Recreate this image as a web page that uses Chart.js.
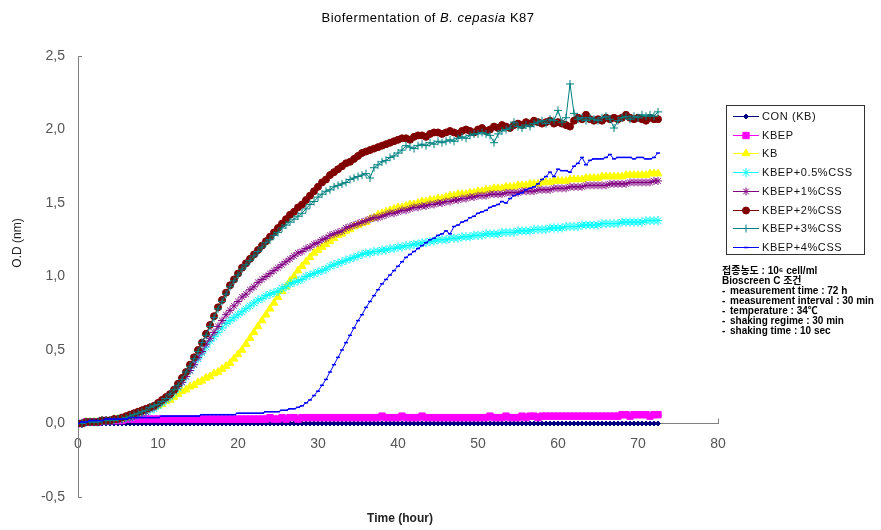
<!DOCTYPE html>
<html>
<head>
<meta charset="utf-8">
<title>Biofermentation of B. cepasia K87</title>
<script src="https://cdn.jsdelivr.net/npm/chart.js@4.4.1/dist/chart.umd.min.js"></script>
<style>
  html, body { margin: 0; padding: 0; background: #ffffff; }
  #wrap { width: 881px; height: 530px; position: relative; }
</style>
</head>
<body>
<div id="wrap"><canvas id="chart" width="881" height="530"></canvas></div>
<script>
// Sampling times (hours), one reading every 30 min
const hours = [
  0, 0.5, 1, 1.5, 2, 2.5, 3, 3.5, 4, 4.5,
  5, 5.5, 6, 6.5, 7, 7.5, 8, 8.5, 9, 9.5,
  10, 10.5, 11, 11.5, 12, 12.5, 13, 13.5, 14, 14.5,
  15, 15.5, 16, 16.5, 17, 17.5, 18, 18.5, 19, 19.5,
  20, 20.5, 21, 21.5, 22, 22.5, 23, 23.5, 24, 24.5,
  25, 25.5, 26, 26.5, 27, 27.5, 28, 28.5, 29, 29.5,
  30, 30.5, 31, 31.5, 32, 32.5, 33, 33.5, 34, 34.5,
  35, 35.5, 36, 36.5, 37, 37.5, 38, 38.5, 39, 39.5,
  40, 40.5, 41, 41.5, 42, 42.5, 43, 43.5, 44, 44.5,
  45, 45.5, 46, 46.5, 47, 47.5, 48, 48.5, 49, 49.5,
  50, 50.5, 51, 51.5, 52, 52.5, 53, 53.5, 54, 54.5,
  55, 55.5, 56, 56.5, 57, 57.5, 58, 58.5, 59, 59.5,
  60, 60.5, 61, 61.5, 62, 62.5, 63, 63.5, 64, 64.5,
  65, 65.5, 66, 66.5, 67, 67.5, 68, 68.5, 69, 69.5,
  70, 70.5, 71, 71.5, 72, 72.5
];

const seriesNames = ['CON (KB)', 'KBEP', 'KB', 'KBEP+0.5%CSS', 'KBEP+1%CSS', 'KBEP+2%CSS', 'KBEP+3%CSS', 'KBEP+4%CSS'];

// O.D readings per culture
const odConKB = [
  0.00, 0.00, 0.00, 0.01, 0.00, 0.00, 0.00, 0.00, 0.00, 0.00,
  0.00, 0.00, 0.00, 0.00, 0.00, 0.00, 0.00, 0.00, 0.00, 0.00,
  0.00, 0.00, 0.00, 0.00, 0.00, 0.00, 0.00, 0.00, 0.00, 0.00,
  0.00, 0.00, 0.00, 0.00, 0.00, 0.00, 0.00, 0.00, 0.00, 0.00,
  0.00, 0.00, 0.00, 0.00, 0.00, 0.00, 0.00, 0.00, 0.00, 0.00,
  0.00, 0.00, 0.00, 0.00, 0.00, 0.00, 0.00, 0.00, 0.00, 0.00,
  0.00, 0.00, 0.00, 0.00, 0.00, 0.00, 0.00, 0.00, 0.00, 0.00,
  0.00, 0.00, 0.00, 0.00, 0.00, 0.00, 0.00, 0.00, 0.00, 0.00,
  0.00, 0.00, 0.00, 0.00, 0.00, 0.00, 0.00, 0.00, 0.00, 0.00,
  0.00, 0.00, 0.00, 0.00, 0.00, 0.00, 0.00, 0.00, 0.00, 0.00,
  0.00, 0.00, 0.00, 0.00, 0.00, 0.00, 0.00, 0.00, 0.00, 0.00,
  0.00, 0.00, 0.00, 0.00, 0.00, 0.00, 0.00, 0.00, 0.00, 0.00,
  0.00, 0.00, 0.00, 0.00, 0.00, 0.00, 0.00, 0.00, 0.00, 0.00,
  0.00, 0.00, 0.00, 0.00, 0.00, 0.00, 0.00, 0.00, 0.00, 0.00,
  0.00, 0.00, 0.00, 0.00, 0.00, 0.00
];

const odKBEP = [
  0.00, 0.00, 0.01, 0.01, 0.01, 0.01, 0.02, 0.02, 0.02, 0.02,
  0.02, 0.02, 0.03, 0.03, 0.03, 0.03, 0.03, 0.03, 0.03, 0.03,
  0.03, 0.03, 0.03, 0.03, 0.03, 0.03, 0.03, 0.03, 0.03, 0.03,
  0.03, 0.03, 0.03, 0.03, 0.03, 0.03, 0.03, 0.03, 0.03, 0.03,
  0.03, 0.03, 0.03, 0.03, 0.03, 0.03, 0.03, 0.03, 0.04, 0.03,
  0.03, 0.04, 0.03, 0.04, 0.04, 0.03, 0.04, 0.04, 0.04, 0.04,
  0.04, 0.04, 0.04, 0.04, 0.04, 0.04, 0.04, 0.04, 0.04, 0.04,
  0.04, 0.04, 0.04, 0.04, 0.04, 0.04, 0.05, 0.04, 0.04, 0.04,
  0.04, 0.05, 0.04, 0.04, 0.04, 0.04, 0.05, 0.04, 0.04, 0.04,
  0.04, 0.04, 0.04, 0.04, 0.04, 0.04, 0.04, 0.04, 0.04, 0.04,
  0.04, 0.04, 0.04, 0.05, 0.04, 0.04, 0.04, 0.05, 0.04, 0.04,
  0.04, 0.05, 0.04, 0.05, 0.05, 0.04, 0.05, 0.05, 0.05, 0.05,
  0.05, 0.05, 0.05, 0.05, 0.05, 0.05, 0.05, 0.05, 0.05, 0.05,
  0.05, 0.05, 0.05, 0.05, 0.05, 0.05, 0.06, 0.06, 0.05, 0.06,
  0.06, 0.06, 0.06, 0.05, 0.06, 0.06
];

const odKB = [
  0.00, 0.00, 0.01, 0.01, 0.01, 0.01, 0.02, 0.02, 0.02, 0.03,
  0.03, 0.03, 0.04, 0.05, 0.06, 0.07, 0.08, 0.09, 0.10, 0.11,
  0.12, 0.13, 0.15, 0.16, 0.18, 0.20, 0.22, 0.23, 0.25, 0.26,
  0.28, 0.29, 0.31, 0.32, 0.34, 0.35, 0.37, 0.39, 0.41, 0.44,
  0.47, 0.50, 0.54, 0.58, 0.62, 0.66, 0.70, 0.74, 0.78, 0.82,
  0.86, 0.90, 0.93, 0.97, 1.00, 1.04, 1.07, 1.10, 1.13, 1.16,
  1.18, 1.20, 1.22, 1.24, 1.26, 1.28, 1.29, 1.31, 1.32, 1.34,
  1.35, 1.36, 1.37, 1.39, 1.40, 1.42, 1.43, 1.44, 1.45, 1.46,
  1.47, 1.47, 1.48, 1.49, 1.49, 1.50, 1.51, 1.51, 1.52, 1.52,
  1.53, 1.53, 1.54, 1.55, 1.55, 1.56, 1.56, 1.56, 1.57, 1.57,
  1.58, 1.58, 1.59, 1.59, 1.60, 1.60, 1.60, 1.61, 1.61, 1.61,
  1.62, 1.62, 1.62, 1.63, 1.63, 1.63, 1.64, 1.64, 1.64, 1.65,
  1.65, 1.65, 1.65, 1.66, 1.66, 1.66, 1.66, 1.67, 1.67, 1.67,
  1.67, 1.68, 1.68, 1.68, 1.68, 1.68, 1.68, 1.69, 1.69, 1.69,
  1.69, 1.69, 1.69, 1.70, 1.70, 1.70
];

const odCss05 = [
  0.00, 0.00, 0.01, 0.01, 0.01, 0.01, 0.02, 0.02, 0.02, 0.03,
  0.03, 0.03, 0.04, 0.04, 0.05, 0.06, 0.07, 0.08, 0.09, 0.10,
  0.12, 0.14, 0.16, 0.18, 0.21, 0.24, 0.28, 0.32, 0.36, 0.40,
  0.44, 0.48, 0.52, 0.56, 0.59, 0.62, 0.65, 0.68, 0.70, 0.72,
  0.74, 0.76, 0.78, 0.80, 0.82, 0.84, 0.85, 0.87, 0.88, 0.89,
  0.90, 0.92, 0.93, 0.95, 0.96, 0.97, 0.98, 1.00, 1.01, 1.02,
  1.03, 1.04, 1.05, 1.07, 1.08, 1.09, 1.10, 1.11, 1.12, 1.13,
  1.14, 1.15, 1.16, 1.16, 1.17, 1.17, 1.18, 1.18, 1.19, 1.19,
  1.20, 1.20, 1.21, 1.21, 1.22, 1.22, 1.23, 1.23, 1.24, 1.24,
  1.25, 1.25, 1.25, 1.26, 1.26, 1.26, 1.27, 1.27, 1.27, 1.28,
  1.28, 1.28, 1.29, 1.29, 1.29, 1.29, 1.30, 1.30, 1.30, 1.30,
  1.31, 1.31, 1.31, 1.31, 1.32, 1.32, 1.32, 1.32, 1.33, 1.33,
  1.33, 1.33, 1.34, 1.34, 1.34, 1.34, 1.35, 1.35, 1.35, 1.35,
  1.35, 1.36, 1.36, 1.36, 1.36, 1.36, 1.37, 1.37, 1.37, 1.37,
  1.37, 1.37, 1.38, 1.38, 1.38, 1.38
];

const odCss1 = [
  0.00, 0.00, 0.01, 0.01, 0.01, 0.01, 0.02, 0.02, 0.02, 0.03,
  0.03, 0.03, 0.04, 0.04, 0.05, 0.06, 0.07, 0.08, 0.10, 0.11,
  0.13, 0.15, 0.17, 0.19, 0.22, 0.25, 0.28, 0.32, 0.36, 0.40,
  0.45, 0.49, 0.54, 0.58, 0.62, 0.66, 0.70, 0.74, 0.77, 0.80,
  0.83, 0.86, 0.88, 0.91, 0.93, 0.96, 0.98, 1.00, 1.02, 1.04,
  1.06, 1.08, 1.10, 1.12, 1.14, 1.16, 1.17, 1.19, 1.20, 1.22,
  1.23, 1.25, 1.26, 1.28, 1.29, 1.30, 1.31, 1.33, 1.34, 1.35,
  1.36, 1.37, 1.38, 1.39, 1.40, 1.40, 1.41, 1.42, 1.43, 1.43,
  1.44, 1.45, 1.45, 1.46, 1.47, 1.47, 1.48, 1.48, 1.49, 1.49,
  1.50, 1.50, 1.51, 1.51, 1.52, 1.52, 1.53, 1.53, 1.54, 1.54,
  1.55, 1.55, 1.55, 1.56, 1.56, 1.56, 1.56, 1.57, 1.57, 1.57,
  1.57, 1.58, 1.58, 1.58, 1.58, 1.59, 1.59, 1.59, 1.59, 1.60,
  1.60, 1.60, 1.60, 1.61, 1.61, 1.61, 1.61, 1.62, 1.62, 1.62,
  1.62, 1.62, 1.62, 1.63, 1.63, 1.63, 1.63, 1.63, 1.64, 1.64,
  1.64, 1.64, 1.64, 1.64, 1.65, 1.65
];

const odCss2 = [
  0.00, 0.00, 0.01, 0.01, 0.01, 0.01, 0.02, 0.02, 0.02, 0.03,
  0.03, 0.04, 0.05, 0.06, 0.07, 0.08, 0.09, 0.10, 0.11, 0.12,
  0.14, 0.16, 0.18, 0.20, 0.23, 0.27, 0.31, 0.35, 0.40, 0.45,
  0.50, 0.55, 0.61, 0.67, 0.73, 0.79, 0.84, 0.89, 0.94, 0.98,
  1.02, 1.06, 1.09, 1.12, 1.15, 1.18, 1.21, 1.24, 1.27, 1.30,
  1.33, 1.36, 1.39, 1.42, 1.44, 1.47, 1.49, 1.52, 1.55, 1.58,
  1.61, 1.64, 1.66, 1.69, 1.71, 1.73, 1.75, 1.77, 1.78, 1.80,
  1.82, 1.84, 1.85, 1.86, 1.87, 1.88, 1.89, 1.90, 1.91, 1.92,
  1.93, 1.94, 1.94, 1.93, 1.95, 1.96, 1.96, 1.95, 1.97, 1.98,
  1.98, 1.97, 1.98, 1.99, 1.98, 1.97, 1.99, 2.00, 1.99, 1.98,
  2.00, 2.01, 1.99, 2.00, 2.02, 2.01, 2.03, 2.02, 2.01, 2.03,
  2.04, 2.03, 2.05, 2.04, 2.06, 2.05, 2.04, 2.05, 2.06, 2.04,
  2.05, 2.04, 2.03, 2.02, 2.06, 2.08, 2.07, 2.10, 2.07, 2.06,
  2.07, 2.06, 2.08, 2.07, 2.08, 2.07, 2.08, 2.10, 2.08, 2.07,
  2.08, 2.07, 2.06, 2.08, 2.07, 2.07
];

const odCss3 = [
  0.00, 0.00, 0.01, 0.01, 0.01, 0.01, 0.02, 0.02, 0.02, 0.02,
  0.03, 0.03, 0.04, 0.05, 0.06, 0.07, 0.08, 0.09, 0.11, 0.12,
  0.13, 0.15, 0.17, 0.20, 0.23, 0.26, 0.30, 0.35, 0.39, 0.44,
  0.49, 0.55, 0.60, 0.66, 0.72, 0.78, 0.83, 0.88, 0.93, 0.97,
  1.01, 1.05, 1.08, 1.11, 1.14, 1.17, 1.20, 1.23, 1.25, 1.28,
  1.30, 1.33, 1.35, 1.37, 1.39, 1.41, 1.43, 1.46, 1.49, 1.51,
  1.54, 1.56, 1.58, 1.59, 1.61, 1.62, 1.63, 1.64, 1.66, 1.67,
  1.68, 1.69, 1.70, 1.67, 1.74, 1.76, 1.78, 1.79, 1.81, 1.82,
  1.84, 1.86, 1.89, 1.88, 1.87, 1.89, 1.90, 1.89, 1.91, 1.90,
  1.92, 1.91, 1.92, 1.93, 1.92, 1.94, 1.95, 1.94, 1.96, 1.97,
  1.97, 1.98, 1.97, 1.96, 1.91, 1.97, 1.99, 2.00, 2.01, 2.05,
  2.02, 2.01, 2.03, 2.02, 2.04, 2.05, 2.06, 2.04, 2.07, 2.06,
  2.13, 2.05, 2.08, 2.31, 2.11, 2.07, 2.08, 2.06, 2.08, 2.07,
  2.06, 2.08, 2.09, 2.07, 2.01, 2.06, 2.08, 2.09, 2.07, 2.09,
  2.08, 2.10, 2.09, 2.10, 2.09, 2.12
];

const odCss4 = [
  0.00, 0.01, 0.01, 0.02, 0.02, 0.02, 0.02, 0.03, 0.03, 0.03,
  0.03, 0.03, 0.03, 0.04, 0.04, 0.04, 0.04, 0.04, 0.04, 0.04,
  0.04, 0.05, 0.05, 0.05, 0.05, 0.05, 0.05, 0.05, 0.05, 0.05,
  0.05, 0.06, 0.06, 0.06, 0.06, 0.06, 0.06, 0.06, 0.06, 0.06,
  0.07, 0.07, 0.07, 0.07, 0.07, 0.07, 0.07, 0.08, 0.08, 0.08,
  0.08, 0.09, 0.09, 0.10, 0.10, 0.11, 0.12, 0.14, 0.16, 0.19,
  0.22, 0.26, 0.30, 0.35, 0.40, 0.45, 0.50, 0.55, 0.60, 0.65,
  0.70, 0.74, 0.79, 0.83, 0.87, 0.91, 0.95, 0.98, 1.01, 1.04,
  1.07, 1.10, 1.13, 1.15, 1.17, 1.19, 1.21, 1.23, 1.25, 1.26,
  1.28, 1.29, 1.31, 1.29, 1.34, 1.35, 1.37, 1.38, 1.40, 1.41,
  1.43, 1.44, 1.45, 1.47, 1.48, 1.49, 1.51, 1.50, 1.53, 1.55,
  1.56, 1.57, 1.59, 1.60, 1.61, 1.63, 1.66, 1.68, 1.71, 1.68,
  1.73, 1.72, 1.72, 1.71, 1.75, 1.77, 1.81, 1.76, 1.79, 1.80,
  1.80, 1.80, 1.81, 1.83, 1.80, 1.81, 1.81, 1.81, 1.81, 1.80,
  1.81, 1.81, 1.80, 1.80, 1.81, 1.84
];

const xTickLabels = ['0', '10', '20', '30', '40', '50', '60', '70', '80'];
const yTickLabels = ['-0,5', '0,0', '0,5', '1,0', '1,5', '2,0', '2,5'];

const noteLines = [
  '접종농도 : 10⁶ cell/ml',
  'Bioscreen C 조건',
  '- measurement time : 72 h',
  '- measurement interval : 30 min',
  '- temperature : 34℃',
  '- shaking regime : 30 min',
  '- shaking time : 10 sec'
];

const seriesValues = [odConKB, odKBEP, odKB, odCss05, odCss1, odCss2, odCss3, odCss4];
const seriesColors = ['#000080', '#ff00ff', '#ffff00', '#00ffff', '#800080', '#800000', '#008080', '#0000ff'];
const seriesMarkers = ['rectRot', 'rect', 'triangle', 'star', 'star', 'circle', 'cross', 'line'];
const seriesMarkerSizes = [2.5, 4.5, 4.5, 4.5, 4, 3.5, 4, 2];

const datasets = seriesValues.map((vals, i) => ({
  label: seriesNames[i],
  data: vals.map((v, k) => ({ x: hours[k], y: v })),
  borderColor: seriesColors[i],
  backgroundColor: seriesColors[i],
  pointBackgroundColor: seriesColors[i],
  pointBorderColor: seriesColors[i],
  pointStyle: seriesMarkers[i],
  pointRadius: seriesMarkerSizes[i],
  pointBorderWidth: i === 7 ? 1.5 : 1,
  borderWidth: 1,
  tension: 0,
  fill: false,
  order: 10 - i
}));

const FONT = "'Liberation Sans', Arial, sans-serif";

// Title, axis titles, end ticks, legend box and culture notes
const decorations = {
  id: 'decorations',
  afterDraw(chart) {
    const ctx = chart.ctx;
    const area = chart.chartArea;
    const ys = chart.scales.y, xs = chart.scales.x;
    ctx.save();

    // chart title with italic species name
    const parts = [['Biofermentation of ', 'normal'], ['B. cepasia', 'italic'], [' K87', 'normal']];
    ctx.letterSpacing = '0.5px';
    let total = 0;
    parts.forEach(p => { ctx.font = p[1] + ' 13px ' + FONT; total += ctx.measureText(p[0]).width; });
    let tx = 428 - total / 2;
    ctx.fillStyle = '#000';
    ctx.textBaseline = 'middle';
    ctx.textAlign = 'left';
    parts.forEach(p => {
      ctx.font = p[1] + ' 13px ' + FONT;
      ctx.fillText(p[0], tx, 18);
      tx += ctx.measureText(p[0]).width;
    });
    ctx.letterSpacing = '0px';

    // axis titles
    ctx.font = 'bold 12px ' + FONT;
    ctx.textAlign = 'center';
    ctx.fillStyle = '#222';
    ctx.fillText('Time (hour)', 400, 519);
    ctx.save();
    ctx.translate(18, 243);
    ctx.rotate(-Math.PI / 2);
    ctx.font = '12px ' + FONT;
    ctx.fillText('O.D (nm)', 0, 0);
    ctx.restore();

    // short end ticks on both axes
    ctx.strokeStyle = '#808080';
    ctx.lineWidth = 1;
    ctx.beginPath();
    const yTop = Math.round(ys.getPixelForValue(2.5)) + 0.5;
    const yBot = Math.round(ys.getPixelForValue(-0.5)) + 0.5;
    ctx.moveTo(area.left, yTop); ctx.lineTo(area.left + 4, yTop);
    ctx.moveTo(area.left, yBot); ctx.lineTo(area.left + 4, yBot);
    const x80 = Math.round(xs.getPixelForValue(80)) + 0.5;
    const y0 = ys.getPixelForValue(0);
    ctx.moveTo(x80, y0); ctx.lineTo(x80, y0 - 5);
    ctx.stroke();

    // legend
    const lx = 726, ly = 105, lw = 138, lh = 149;
    ctx.fillStyle = '#fff';
    ctx.fillRect(lx, ly, lw, lh);
    ctx.strokeStyle = '#333';
    ctx.strokeRect(lx + 0.5, ly + 0.5, lw, lh);
    ctx.textAlign = 'left';
    ctx.textBaseline = 'middle';
    chart.data.datasets.forEach((ds, i) => {
      const y = Math.round(116 + i * 18.7) + 0.5;
      ctx.strokeStyle = ds.borderColor;
      ctx.fillStyle = ds.pointBackgroundColor;
      ctx.lineWidth = 1;
      ctx.beginPath();
      ctx.moveTo(733, y);
      ctx.lineTo(759, y);
      ctx.stroke();
      ctx.lineWidth = ds.pointBorderWidth;
      Chart.helpers.drawPoint(ctx, {
        pointStyle: ds.pointStyle,
        radius: ds.pointRadius,
        borderWidth: ds.pointBorderWidth,
        rotation: 0
      }, 746, y);
      ctx.fillStyle = '#111';
      ctx.font = '11px ' + FONT;
      ctx.letterSpacing = '0.6px';
      ctx.fillText(ds.label, 762, y + 0.5);
      ctx.letterSpacing = '0px';
    });

    // culture conditions
    ctx.fillStyle = '#000';
    ctx.font = "bold 10px 'Liberation Sans', 'Noto Sans CJK KR', sans-serif";
    noteLines.forEach((line, i) => {
      const y = 271 + i * 10;
      if (line.startsWith('- ')) {
        ctx.fillText('-', 722, y);
        ctx.fillText(line.slice(2), 730, y);
      } else {
        ctx.fillText(line, 722, y);
      }
    });

    ctx.restore();
  }
};

new Chart(document.getElementById('chart'), {
  type: 'line',
  data: { datasets },
  options: {
    responsive: false,
    animation: false,
    events: [],
    layout: { padding: { left: 0, right: 163, top: 56, bottom: 33 } },
    plugins: {
      legend: { display: false },
      title: { display: false },
      tooltip: { enabled: false }
    },
    scales: {
      x: {
        type: 'linear',
        position: { y: 0 },
        min: 0,
        max: 80,
        grid: { display: false, drawTicks: false },
        border: { display: true, color: '#808080', width: 1 },
        ticks: {
          stepSize: 10,
          padding: 12,
          color: '#555',
          font: { family: FONT, size: 14 },
          maxRotation: 0,
          callback: (v) => xTickLabels[Math.round(v / 10)]
        }
      },
      y: {
        type: 'linear',
        min: -0.5,
        max: 2.5,
        afterFit: (s) => { s.width = 78; },
        grid: { display: false, drawTicks: false },
        border: { display: true, color: '#808080', width: 1 },
        ticks: {
          stepSize: 0.5,
          padding: 13,
          color: '#555',
          font: { family: FONT, size: 14 },
          callback: (v) => yTickLabels[Math.round((v + 0.5) / 0.5)]
        }
      }
    }
  },
  plugins: [decorations]
});
</script>
</body>
</html>
